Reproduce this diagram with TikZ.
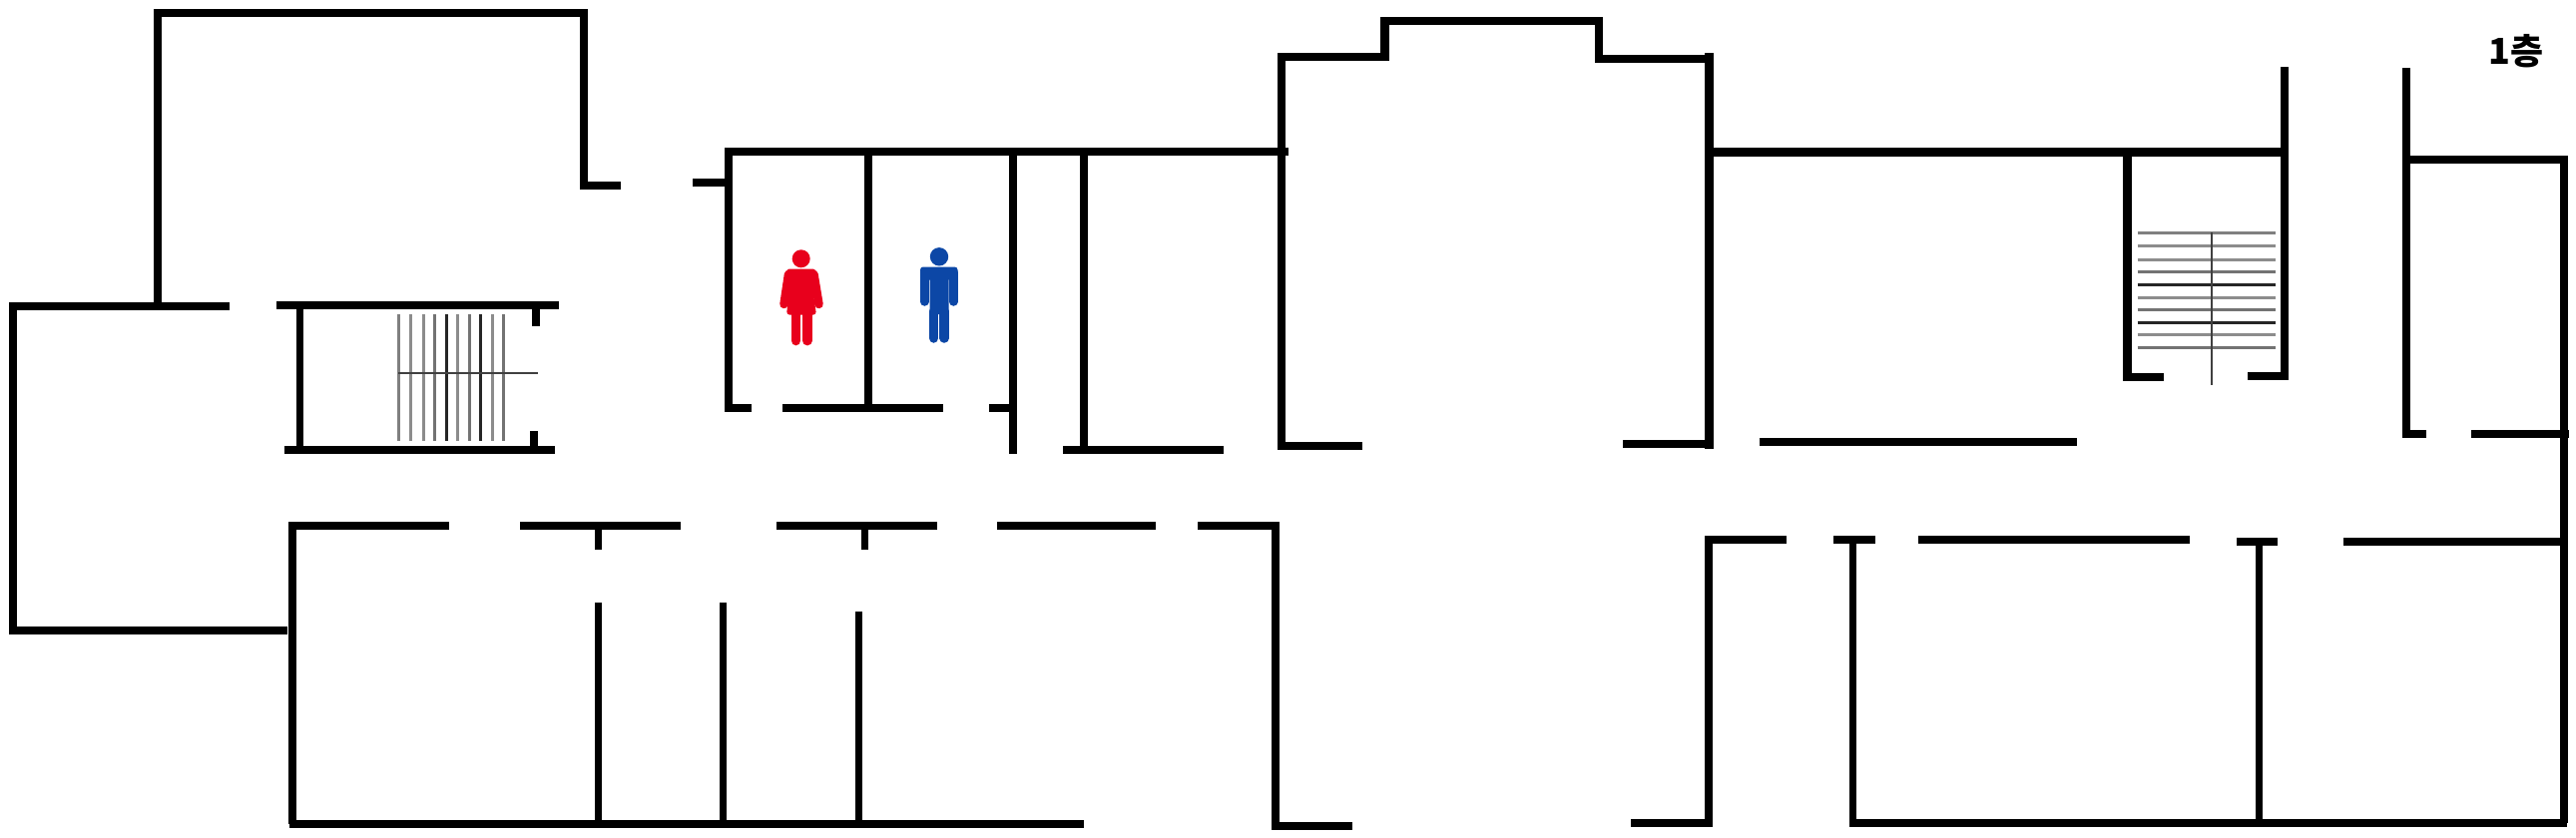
\documentclass[tikz,border=0pt]{standalone}
\usepackage{fontspec}
\newfontfamily\cjk{Noto Sans CJK KR}

\definecolor{ladyred}{HTML}{E8001C}
\definecolor{gentblue}{HTML}{0C47A6}

\tikzset{
	wall/.style = {black, line width = 0.082cm},
	thinwall/.style = {black, line width = 0.07cm},
	tread/.style = {line width = 0.03cm},
	rail/.style = {black!75, line width = 0.02cm},
	limb/.style = {line width = 0.085cm, line cap = round},
}

\begin{document}
\begin{tikzpicture}[x = 0.01cm, y = -0.01cm]
	\useasboundingbox (0, 0) rectangle (2581, 839);
	% west wing
	\draw [wall] (158, 12.7) -- (585, 12.7) -- (585, 186) -- (622, 186);
	\draw [thinwall] (158, 9) -- (158, 311);
	\draw [wall] (230, 307) -- (13, 307) -- (13, 632) -- (288, 632);
	% west stairs
	\draw [wall] (277, 306) -- (560, 306);
	\draw [wall] (285, 451) -- (556, 451);
	\draw [thinwall] (300, 302) -- (300, 455);
	\draw [wall] (537, 306) -- (537, 327);
	\draw [wall] (535, 432) -- (535, 451);
	\foreach \x / \g in {399.3/50, 411.3/45, 424/45, 435.3/55, 447/85, 458.7/45, 470/55, 481.3/85, 493.3/45, 504.7/55}
		\draw [tread, black!\g] (\x, 315) -- (\x, 442);
	\draw [rail] (399, 374) -- (539, 374);
	% washrooms
	\draw [wall] (694, 183) -- (733, 183);
	\draw [wall] (753, 409) -- (730, 409) -- (730, 152) -- (1291, 152);
	\draw [wall] (784, 409) -- (945, 409);
	\draw [wall] (991, 409) -- (1015, 409);
	\draw [wall] (870, 152) -- (870, 409);
	\draw [wall] (1015, 152) -- (1015, 455);
	\draw [wall] (1086, 152) -- (1086, 451);
	\draw [wall] (1065, 451) -- (1226, 451);
	% lady
	\fill [ladyred] (802.7, 259.3) circle (9);
	\fill [ladyred, rounded corners = 0.03cm] (788, 269.5) -- (817.5, 269.5) -- (815, 295) -- (818, 315.5) -- (788, 315.5) -- (790.5, 295) -- cycle;
	\draw [limb, ladyred] (790, 275) -- (785.5, 305);
	\draw [limb, ladyred] (815.5, 275) -- (820.5, 305);
	\draw [limb, ladyred, line width = 0.097cm] (797.5, 312) -- (797.5, 341.5);
	\draw [limb, ladyred, line width = 0.097cm] (808.8, 312) -- (808.8, 341.5);
	% gent
	\fill [gentblue] (941, 257.3) circle (9.2);
	\fill [gentblue, rounded corners = 0.03cm] (922, 267.5) -- (959.5, 267.5) -- (959.5, 278) -- (950.5, 278) -- (950.5, 315) -- (931.5, 315) -- (931.5, 278) -- (922, 278) -- cycle;
	\draw [limb, gentblue] (926.3, 273) -- (926.3, 302.5);
	\draw [limb, gentblue] (955.3, 273) -- (955.3, 302.5);
	\draw [limb, gentblue, line width = 0.095cm] (935.6, 312) -- (935.6, 339);
	\draw [limb, gentblue, line width = 0.095cm] (946.2, 312) -- (946.2, 339);
	% south-west rooms
	\draw [wall] (450, 527) -- (293, 527) -- (293, 826);
	\draw [wall] (290, 826) -- (1086, 826);
	\draw [wall] (521, 527) -- (682, 527);
	\draw [wall] (778, 527) -- (939, 527);
	\draw [wall] (999, 527) -- (1158, 527);
	\draw [wall] (1200, 527) -- (1278, 527) -- (1278, 828) -- (1355, 828);
	\draw [thinwall] (599, 527) -- (599, 551);
	\draw [thinwall] (866.5, 527) -- (866.5, 551);
	\draw [thinwall] (599, 604) -- (599, 826);
	\draw [thinwall] (724, 604) -- (724, 826);
	\draw [thinwall] (860, 613) -- (860, 826);
	% central hall
	\draw [wall] (1365, 447) -- (1284, 447) -- (1284, 57) -- (1387.5, 57) -- (1387.5, 21.3) -- (1602, 21.3) -- (1602, 58.7) -- (1708, 58.7);
	\draw [wall] (1712.5, 53) -- (1712.5, 450);
	\draw [wall] (1626, 445) -- (1712.5, 445);
	\draw [wall] (1712, 152.5) -- (2289, 152.5);
	\draw [wall] (1762.5, 443) -- (2081, 443);
	% east stairs
	\draw [wall] (2289, 67) -- (2289, 377) -- (2252, 377);
	\draw [wall] (2131.5, 152) -- (2131.5, 378) -- (2168, 378);
	\foreach \y / \g in {233/50, 246/45, 260/45, 272.7/55, 285/85, 298/45, 310.3/55, 323/85, 335.7/45, 348.3/55}
		\draw [tread, black!\g] (2141.7, \y) -- (2280, \y);
	\draw [rail] (2215.7, 233) -- (2215.7, 386);
	% east wing
	\draw [wall] (2411, 68) -- (2411, 435) -- (2431, 435);
	\draw [wall] (2411, 160.3) -- (2569, 160.3) -- (2569, 825);
	\draw [wall] (2476, 435) -- (2574, 435);
	% south-east rooms
	\draw [wall] (1789.5, 541) -- (1712, 541) -- (1712, 825) -- (1634, 825);
	\draw [wall] (1837, 541) -- (1878.6, 541);
	\draw [wall] (1922, 541) -- (2194, 541);
	\draw [wall] (2241, 543) -- (2282, 543);
	\draw [wall] (2348, 542.7) -- (2569, 542.7);
	\draw [thinwall] (1856, 541) -- (1856, 828);
	\draw [thinwall] (2263, 543) -- (2263, 828);
	\draw [wall] (1853, 825) -- (2572, 825);
	% floor label
	\node (floorlabel) at (2521, 51) [inner sep = 0pt] {\cjk\bfseries\fontsize{10.2pt}{12pt}\selectfont 1층};
\end{tikzpicture}
\end{document}
